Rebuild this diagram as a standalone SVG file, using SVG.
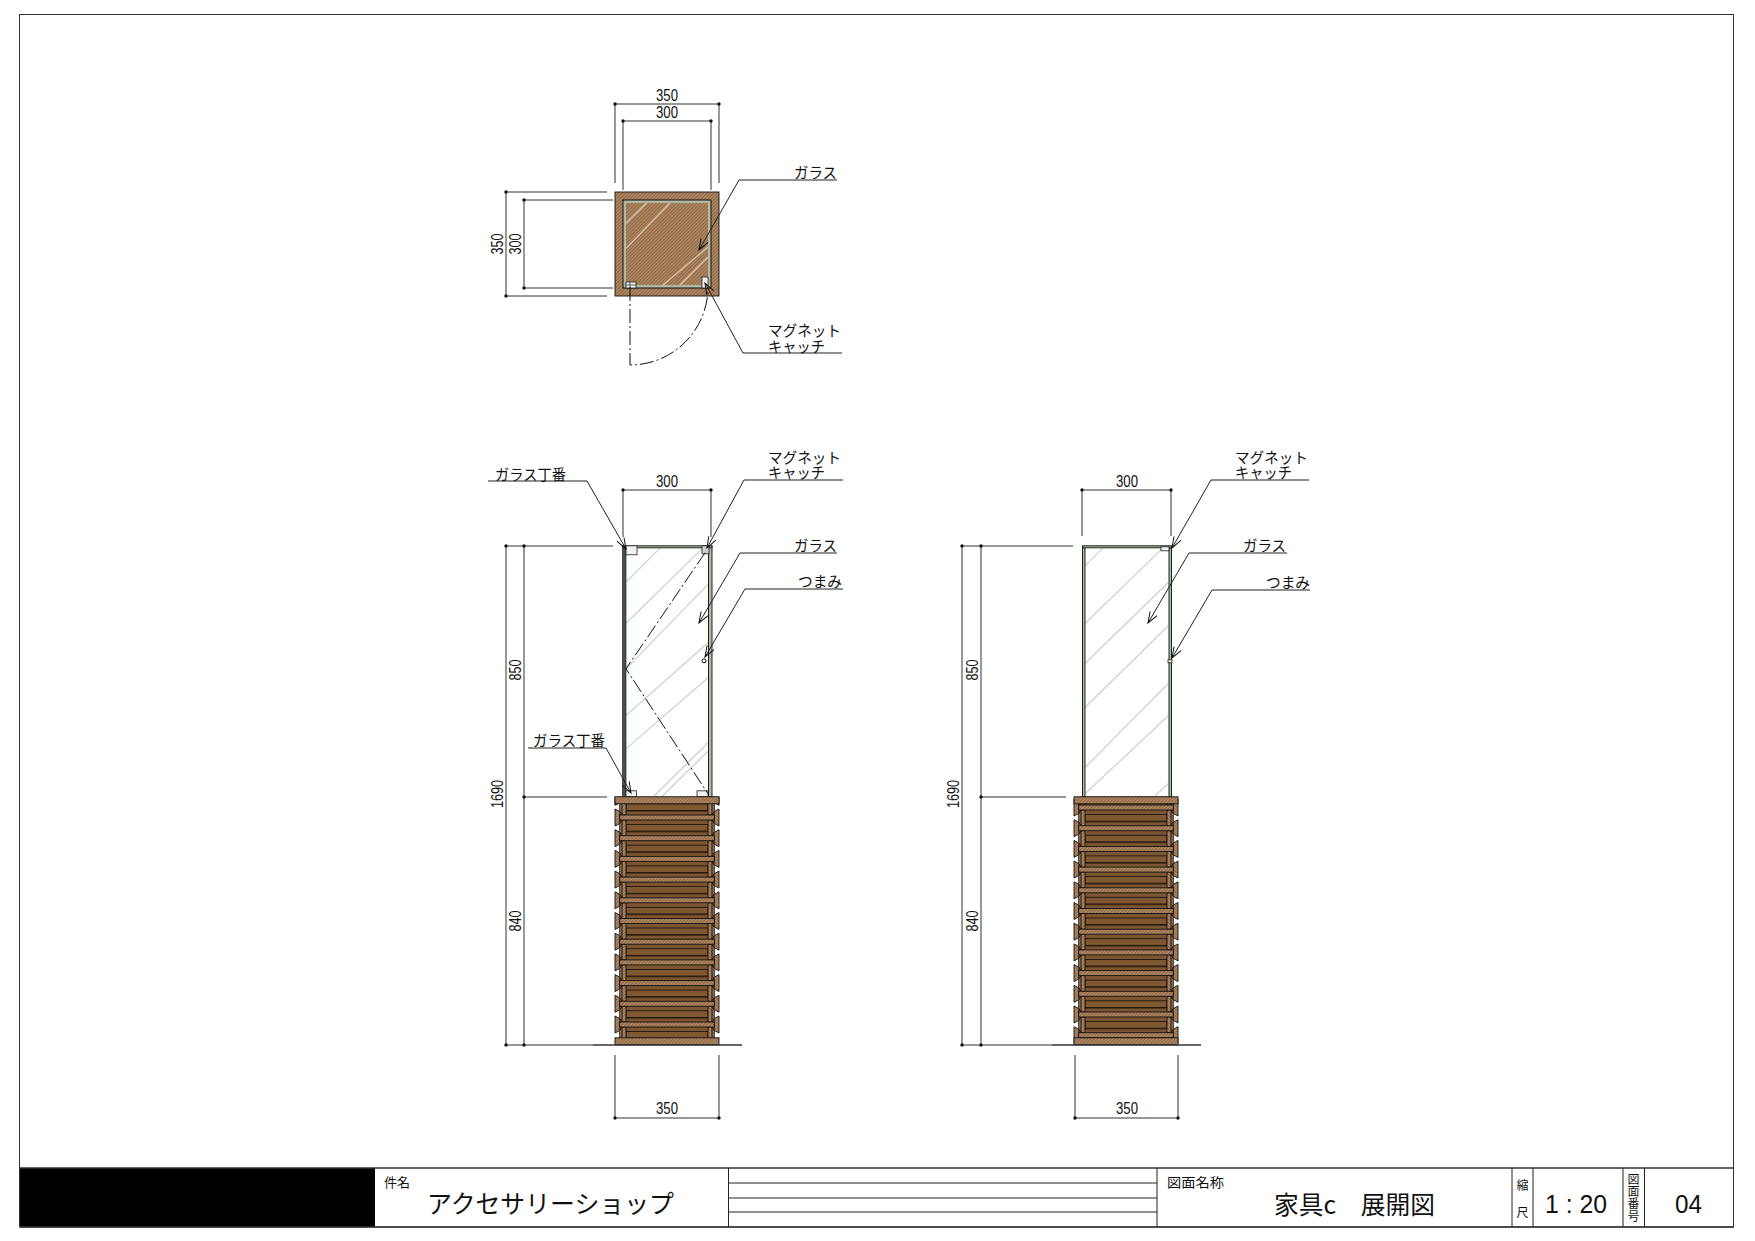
<svg xmlns="http://www.w3.org/2000/svg" xmlns:xlink="http://www.w3.org/1999/xlink" width="1755" height="1241" viewBox="0 0 1755 1241">
<style>
text{font-family:"Noto Sans CJK JP","Liberation Sans",sans-serif;fill:#111}
.d{font-family:"Liberation Sans",sans-serif;font-size:16px;text-anchor:middle}
.l{font-size:15px}
.dim{stroke:#333;stroke-width:1;fill:none}
.ldr{stroke:#222;stroke-width:1;fill:none;marker-end:url(#ah)}
.ph{stroke:#111;stroke-width:1;fill:none;stroke-dasharray:14 3 2 3}
.gl{stroke:#cfcfcf;stroke-width:1.2;fill:none}
.gl2{stroke:#d8c8b4;stroke-width:1.2;fill:none}
.hat{fill:url(#hatch);stroke:#111;stroke-width:.9}
.hw{fill:#f2f2f2;stroke:#222;stroke-width:.8}
.st{fill:#aeb8a6;stroke:#1e281a;stroke-width:1}
.tb{stroke:#222;stroke-width:1;fill:none}
</style>
<defs>
<pattern id="hatch" patternUnits="userSpaceOnUse" width="2.4" height="2.4" patternTransform="rotate(-45)">
<rect width="2.4" height="2.4" fill="#b08a66"/><rect width="2.4" height="1" fill="#8e6540"/>
</pattern>
<marker id="ah" markerUnits="userSpaceOnUse" markerWidth="14" markerHeight="10" refX="12" refY="5" orient="auto">
<path d="M1,1 L12,5 L1,9" fill="none" stroke="#111" stroke-width="1"/>
</marker>
<clipPath id="cabL"><rect x="610" y="796" width="114" height="248"/></clipPath>
<clipPath id="cabR"><rect x="1069" y="796" width="114" height="248"/></clipPath>
<g id="side">
<polygon points="0,-8.5 4.7,-6 4.7,6 0,8.5" class="hat"/>
<polygon points="4.7,6.3 7,2.5 11,2.5 11,18.2 7,18.2 4.7,14.4" class="hat"/>
<path d="M7,2.5V18.2" stroke="#111" stroke-width="1"/>
</g>
<g id="mod">
<rect x="9" y="2.5" width="86" height="15.8" fill="#7d5530"/>
<rect x="11" y="13.6" width="82" height="1.4" fill="#4a2e14"/>
<rect x="11" y="7" width="82" height="6.6" fill="#7f5831" stroke="#111" stroke-width=".8"/>
<use xlink:href="#side"/>
<use xlink:href="#side" transform="translate(104) scale(-1,1)"/>
<rect x="4.7" y="-2.5" width="94.6" height="5" class="hat"/>
</g>
</defs>
<rect width="1755" height="1241" fill="#fff"/>
<rect x="19.5" y="14.5" width="1714" height="1212.5" fill="none" stroke="#333" stroke-width="1"/>

<g id="plan">
<rect x="615" y="192" width="104" height="104" class="hat"/>
<path d="M623,200h88v88h-88zM626,203v82h82v-82z" fill="#aeb9a0" fill-rule="evenodd"/>
<rect x="623" y="200" width="88" height="88" fill="none" stroke="#111" stroke-width="1"/>
<g class="gl2"><path d="M646.7,203L626,223.3"/><path d="M670,203L626,248.3"/><path d="M708,247L663,285"/><path d="M708,257L680,285"/></g>
<rect x="626" y="282" width="10" height="6" class="hw"/><path d="M626,285h10M630,282v6" stroke="#222" stroke-width=".7"/>
<rect x="702" y="277" width="6" height="11" class="hw"/>
<path d="M630,287V365A78,78,0,0,0,708,288" class="ph"/>
</g>

<g id="elevation-left" transform="translate(0,.8)">
<rect x="622.5" y="545" width="89.5" height="251" fill="#fff"/>
<g class="gl"><path d="M625.7,581.7L660,547.3"/><path d="M625.7,622.7L701.7,548.3"/><path d="M625.7,668.3L708.3,583.3"/><path d="M625.7,715L708.3,641.7"/><path d="M625.7,748.3L708.3,676.7"/><path d="M653.3,796L708.3,741.7"/><path d="M661.7,796L708.3,750"/></g>
<rect x="622.5" y="545" width="3.5" height="251" fill="#465446" stroke="#111" stroke-width=".6"/>
<rect x="708.5" y="545" width="3.5" height="251" class="st"/>
<rect x="622.5" y="545" width="89.5" height="2" class="st"/>
<rect x="626" y="545" width="11" height="9" class="hw"/>
<rect x="702" y="545" width="7" height="8" fill="#cfcfcf" stroke="#222" stroke-width=".8"/>
<rect x="626" y="790" width="10.5" height="6" class="hw"/>
<rect x="697" y="790" width="11" height="6" class="hw"/>
<path d="M705,552L626,668L708,793" class="ph"/>
<circle cx="704" cy="660" r="2" fill="#fff" stroke="#111" stroke-width="1"/>
<g clip-path="url(#cabL)">
<rect x="620" y="796" width="94" height="248" fill="#7d5530"/>
<use xlink:href="#mod" x="615" y="796"/>
<use xlink:href="#mod" x="615" y="816.7"/><use xlink:href="#mod" x="615" y="837.4"/><use xlink:href="#mod" x="615" y="858.1"/><use xlink:href="#mod" x="615" y="878.8"/><use xlink:href="#mod" x="615" y="899.5"/><use xlink:href="#mod" x="615" y="920.2"/><use xlink:href="#mod" x="615" y="940.9"/><use xlink:href="#mod" x="615" y="961.6"/><use xlink:href="#mod" x="615" y="982.3"/><use xlink:href="#mod" x="615" y="1003"/><use xlink:href="#mod" x="615" y="1023.7"/>
</g>
<rect x="615" y="796" width="104" height="7" class="hat"/>
<rect x="615" y="1037" width="104" height="7" class="hat"/>
</g>

<g id="elevation-right" transform="translate(0,.8)">
<rect x="1082" y="545" width="90" height="251" fill="#fff"/>
<g class="gl"><path d="M1085,565L1102.7,547.3"/><path d="M1085,622.7L1161.7,548.3"/><path d="M1085,662.7L1168.3,581.7"/><path d="M1085,706.7L1168.3,625"/><path d="M1085,766.7L1168.3,682.7"/><path d="M1085,793L1168.3,715"/><path d="M1155,795L1168,783"/></g>
<rect x="1082.5" y="547" width="2.5" height="249" class="st"/>
<rect x="1169" y="547" width="2.5" height="249" class="st"/>
<rect x="1082.5" y="545" width="89" height="2" class="st"/>
<rect x="1161" y="546" width="8" height="4" class="hw"/>
<rect x="1168" y="659" width="4" height="3" class="hw"/>
<g clip-path="url(#cabR)">
<rect x="1079" y="796" width="94" height="248" fill="#7d5530"/>
<use xlink:href="#mod" x="1074" y="786"/>
<use xlink:href="#mod" x="1074" y="806.7"/><use xlink:href="#mod" x="1074" y="827.4"/><use xlink:href="#mod" x="1074" y="848.1"/><use xlink:href="#mod" x="1074" y="868.8"/><use xlink:href="#mod" x="1074" y="889.5"/><use xlink:href="#mod" x="1074" y="910.2"/><use xlink:href="#mod" x="1074" y="930.9"/><use xlink:href="#mod" x="1074" y="951.6"/><use xlink:href="#mod" x="1074" y="972.3"/><use xlink:href="#mod" x="1074" y="993"/><use xlink:href="#mod" x="1074" y="1013.7"/><use xlink:href="#mod" x="1074" y="1034.4"/>
</g>
<rect x="1074" y="796" width="104" height="7" class="hat"/>
<rect x="1074" y="1037" width="104" height="7" class="hat"/>
</g>

<g id="connectors">
<g class="dim">
<path d="M615,183V104H719V183"/>
<path d="M623,190V121H711V190"/>
<path d="M607,192H506V296H607"/>
<path d="M613,200H524V288H613"/>
<path d="M623,537V490H711V537"/>
<path d="M613,546H506V1045H593"/>
<path d="M607,797H524V1045"/>
<path d="M524,546V797"/>
<path d="M593,1045H742" stroke-width="1.4"/>
<path d="M615,1055V1118H719V1055"/>
<path d="M1082,536V490H1171V536"/>
<path d="M1073,546H962V1045H1052"/>
<path d="M1066,797H981V1045"/>
<path d="M981,546V797"/>
<path d="M1052,1045H1201" stroke-width="1.4"/>
<path d="M1075,1055V1118H1178V1055"/>
</g>
<g fill="#111">
<circle cx="615" cy="104" r="1.7"/><circle cx="719" cy="104" r="1.7"/><circle cx="623" cy="121" r="1.7"/><circle cx="711" cy="121" r="1.7"/>
<circle cx="506" cy="192" r="1.7"/><circle cx="506" cy="296" r="1.7"/><circle cx="524" cy="200" r="1.7"/><circle cx="524" cy="288" r="1.7"/>
<circle cx="623" cy="490" r="1.7"/><circle cx="711" cy="490" r="1.7"/><circle cx="506" cy="546" r="1.7"/><circle cx="524" cy="546" r="1.7"/><circle cx="524" cy="797" r="1.7"/><circle cx="506" cy="1045" r="1.7"/><circle cx="524" cy="1045" r="1.7"/><circle cx="615" cy="1118" r="1.7"/><circle cx="719" cy="1118" r="1.7"/>
<circle cx="1082" cy="490" r="1.7"/><circle cx="1171" cy="490" r="1.7"/><circle cx="962" cy="546" r="1.7"/><circle cx="981" cy="546" r="1.7"/><circle cx="981" cy="797" r="1.7"/><circle cx="962" cy="1045" r="1.7"/><circle cx="981" cy="1045" r="1.7"/><circle cx="1075" cy="1118" r="1.7"/><circle cx="1178" cy="1118" r="1.7"/>
</g>
<path class="ldr" d="M837,180H739L699,250"/>
<path class="ldr" d="M842,353H743L705,283"/>
<path class="ldr" d="M488,481H587L626,549"/>
<path class="ldr" d="M843,480H744L707,548"/>
<path class="ldr" d="M837,553H740L699,623"/>
<path class="ldr" d="M843,589H745L705,657"/>
<path class="ldr" d="M528,748H606L631,793"/>
<path class="ldr" d="M1309,480H1211L1172,548"/>
<path class="ldr" d="M1287,553H1189L1148,623"/>
<path class="ldr" d="M1310,590H1212L1172,658"/>
</g>

<g id="dimension-labels">
<text class="d" x="667" y="101" textLength="22" lengthAdjust="spacingAndGlyphs">350</text>
<text class="d" x="667" y="118" textLength="22" lengthAdjust="spacingAndGlyphs">300</text>
<text class="d" transform="translate(503,244) rotate(-90)" textLength="21" lengthAdjust="spacingAndGlyphs">350</text>
<text class="d" transform="translate(521,244) rotate(-90)" textLength="21" lengthAdjust="spacingAndGlyphs">300</text>
<text class="d" x="667" y="487" textLength="22" lengthAdjust="spacingAndGlyphs">300</text>
<text class="d" transform="translate(503,794) rotate(-90)" textLength="28" lengthAdjust="spacingAndGlyphs">1690</text>
<text class="d" transform="translate(521,670) rotate(-90)" textLength="21" lengthAdjust="spacingAndGlyphs">850</text>
<text class="d" transform="translate(521,921) rotate(-90)" textLength="21" lengthAdjust="spacingAndGlyphs">840</text>
<text class="d" x="667" y="1114" textLength="22" lengthAdjust="spacingAndGlyphs">350</text>
<text class="d" x="1127" y="487" textLength="22" lengthAdjust="spacingAndGlyphs">300</text>
<text class="d" transform="translate(959,794) rotate(-90)" textLength="28" lengthAdjust="spacingAndGlyphs">1690</text>
<text class="d" transform="translate(978,670) rotate(-90)" textLength="21" lengthAdjust="spacingAndGlyphs">850</text>
<text class="d" transform="translate(978,921) rotate(-90)" textLength="21" lengthAdjust="spacingAndGlyphs">840</text>
<text class="d" x="1127" y="1114" textLength="22" lengthAdjust="spacingAndGlyphs">350</text>
</g>

<g id="callout-labels">
<text class="l" x="794" y="178" textLength="43" lengthAdjust="spacingAndGlyphs">ガラス</text>
<text class="l"><tspan x="768" y="336" textLength="73" lengthAdjust="spacingAndGlyphs">マグネット</tspan><tspan x="768" y="352" textLength="57" lengthAdjust="spacingAndGlyphs">キャッチ</tspan></text>
<text class="l" x="495" y="480" textLength="71" lengthAdjust="spacingAndGlyphs">ガラス丁番</text>
<text class="l"><tspan x="768" y="463" textLength="73" lengthAdjust="spacingAndGlyphs">マグネット</tspan><tspan x="768" y="478" textLength="57" lengthAdjust="spacingAndGlyphs">キャッチ</tspan></text>
<text class="l" x="794" y="551" textLength="43" lengthAdjust="spacingAndGlyphs">ガラス</text>
<text class="l" x="798" y="587" textLength="44" lengthAdjust="spacingAndGlyphs">つまみ</text>
<text class="l" x="533" y="746" textLength="72" lengthAdjust="spacingAndGlyphs">ガラス丁番</text>
<text class="l"><tspan x="1235" y="463" textLength="73" lengthAdjust="spacingAndGlyphs">マグネット</tspan><tspan x="1235" y="478" textLength="57" lengthAdjust="spacingAndGlyphs">キャッチ</tspan></text>
<text class="l" x="1243" y="551" textLength="43" lengthAdjust="spacingAndGlyphs">ガラス</text>
<text class="l" x="1266" y="588" textLength="44" lengthAdjust="spacingAndGlyphs">つまみ</text>
</g>

<g id="title-block">
<rect x="20" y="1168" width="355" height="59" fill="#000"/>
<path d="M20,1168H1734M20,1227H1734" stroke="#333" stroke-width="1.4" fill="none"/>
<g class="tb"><path d="M728.5,1168V1227M1157,1168V1227M1512,1168V1227M1533,1168V1227M1623,1168V1227M1644.5,1168V1227M728,1183H1157M728,1198H1157M728,1212H1157"/></g>
<text x="384" y="1187" font-size="13" textLength="26" lengthAdjust="spacingAndGlyphs">件名</text>
<text x="427" y="1213" font-size="25" textLength="247" lengthAdjust="spacingAndGlyphs">アクセサリーショップ</text>
<text x="1167" y="1187" font-size="13" textLength="57" lengthAdjust="spacingAndGlyphs">図面名称</text>
<text x="1274" y="1214" font-size="25" textLength="161" lengthAdjust="spacingAndGlyphs">家具c　展開図</text>
<text x="1522.5" y="1190" font-size="12" text-anchor="middle">縮</text>
<text x="1522.5" y="1217" font-size="12" text-anchor="middle">尺</text>
<text x="1545" y="1213" font-size="25" textLength="62" lengthAdjust="spacingAndGlyphs" style="font-family:'Liberation Sans',sans-serif">1 : 20</text>
<text x="1633.5" y="1173" font-size="12" textLength="49" lengthAdjust="spacing" style="writing-mode:vertical-rl">図面番号</text>
<text x="1675" y="1213" font-size="25" textLength="27" lengthAdjust="spacingAndGlyphs" style="font-family:'Liberation Sans',sans-serif">04</text>
</g>
</svg>
